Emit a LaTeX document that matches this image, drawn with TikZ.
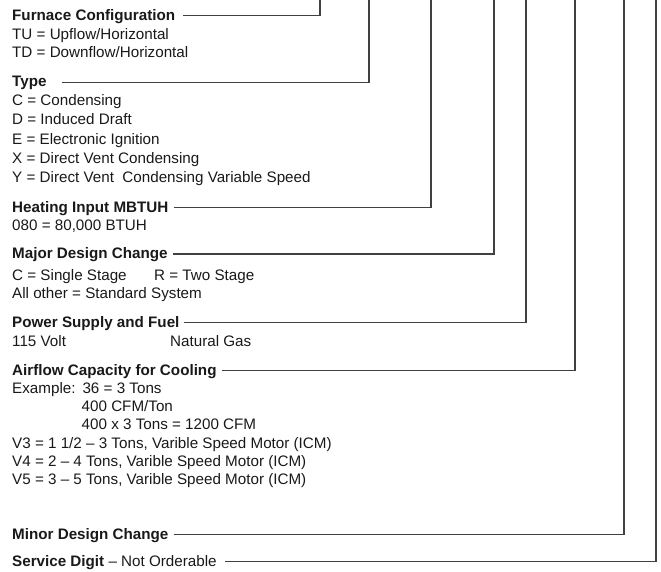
\documentclass[tikz,border=0pt]{standalone}
\usepackage{fontspec}
\setmainfont{Liberation Sans}

\tikzset{
  hdr/.style={anchor=base west, inner sep=0pt, text height=9.6pt, text depth=0pt,
    font=\fontsize{15.2}{18.3}\selectfont\bfseries, text=black!90},
  body/.style={anchor=base west, inner sep=0pt, align=left,
    font=\fontsize{15.2}{18.3}\selectfont, text=black!90},
  lead/.style={draw=black!75, line width=1.1pt}
}

\begin{document}
\begin{tikzpicture}[x=1pt, y=-1pt]
  \useasboundingbox (0,0) rectangle (661,572);

  % Tops of the leader lines
  \coordinate (tConfig) at (320,0);
  \coordinate (tType) at (369,0);
  \coordinate (tInput) at (431,0);
  \coordinate (tMajor) at (494,0);
  \coordinate (tPower) at (526,0);
  \coordinate (tAir) at (575,0);
  \coordinate (tMinor) at (624,0);
  \coordinate (tService) at (656,0);

  % Headings
  \node[hdr] (config) at (12,20.7) {Furnace Configuration};
  \node[hdr] (type) at (12,87) {Type};
  \node[hdr] (input) at (12,212.7) {Heating Input MBTUH};
  \node[hdr] (major) at (12,258.8) {Major Design Change};
  \node[hdr] (power) at (12,327.3) {Power Supply and Fuel};
  \node[hdr] (air) at (12,375.7) {Airflow Capacity for Cooling};
  \node[hdr] (minor) at (12,539) {Minor Design Change};
  \node[hdr] (service) at (12,566.7) {Service Digit\mdseries\ -- Not Orderable};

  % Codes (base = last line)
  \node[body] (configTxt) at (12,57.4) {TU = Upflow/Horizontal\\TD = Downflow/Horizontal};
  \node[body, font=\fontsize{15.2}{19.2}\selectfont] (typeTxt) at (12,182.5)
    {C = Condensing\\D = Induced Draft\\E = Electronic Ignition\\
     X = Direct Vent Condensing\\Y = Direct Vent\ \ Condensing Variable Speed};
  \node[body] (inputTxt) at (12,230.7) {080 = 80,000 BTUH};
  \node[body] (majorTxt) at (12,298.3)
    {\makebox[142pt][l]{C = Single Stage}R = Two Stage\\All other = Standard System};
  \node[body] (powerTxt) at (12,346.7) {\makebox[158pt][l]{115 Volt}Natural Gas};
  \node[body] (airTxt) at (12,484.8)
    {Example:\hspace{7pt}36 = 3 Tons\\
     \hspace*{69.5pt}400 CFM/Ton\\
     \hspace*{69.5pt}400 x 3 Tons = 1200 CFM\\
     V3 = 1 1/2 -- 3 Tons, Varible Speed Motor (ICM)\\
     V4 = 2 -- 4 Tons, Varible Speed Motor (ICM)\\
     V5 = 3 -- 5 Tons, Varible Speed Motor (ICM)};

  % Leader lines
  \draw[lead] ([xshift=8pt]config.east) -| (tConfig);
  \draw[lead] ([xshift=15pt]type.east) -| (tType);
  \draw[lead] ([xshift=5pt]input.east) -| (tInput);
  \draw[lead] ([xshift=5pt]major.east) -| (tMajor);
  \draw[lead] ([xshift=4pt]power.east) -| (tPower);
  \draw[lead] ([xshift=5pt]air.east) -| (tAir);
  \draw[lead] ([xshift=5pt]minor.east) -| (tMinor);
  \draw[lead] ([xshift=8pt]service.east) -| (tService);
\end{tikzpicture}
\end{document}
